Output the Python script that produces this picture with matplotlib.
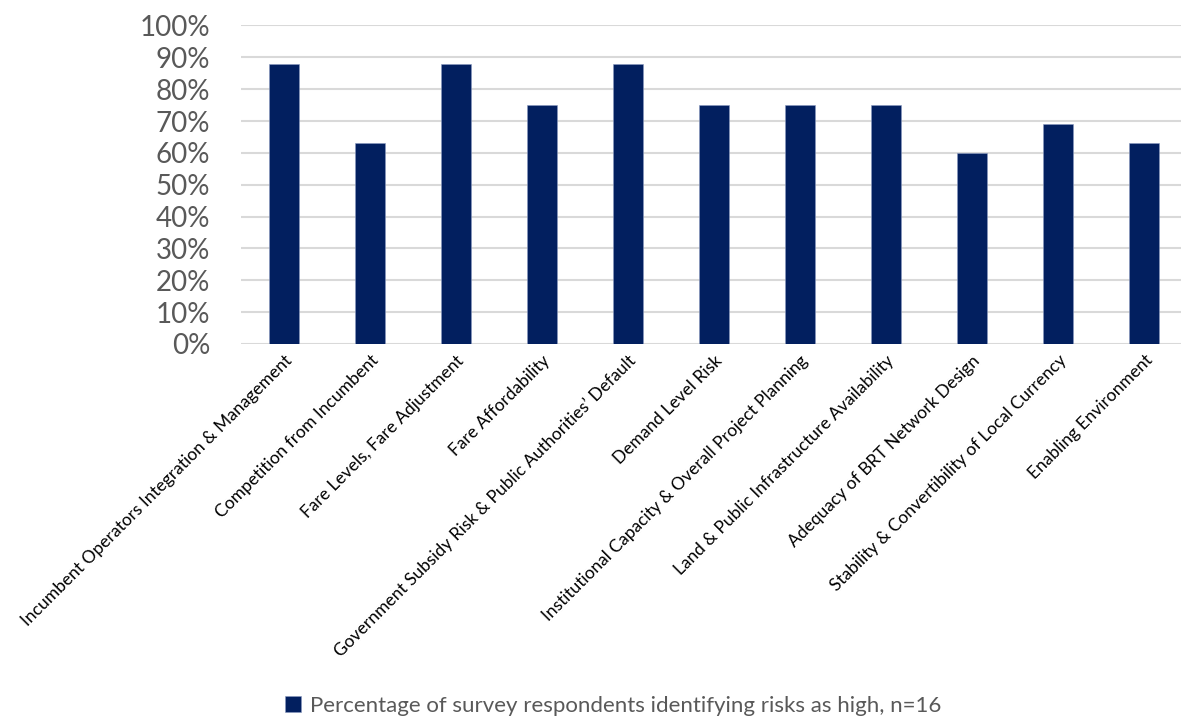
import numpy as np
import matplotlib.pyplot as plt

# risk categories and share of respondents rating them high
risks = [
    'Incumbent Operators Integration & Management',
    'Competition from Incumbent',
    'Fare Levels, Fare Adjustment',
    'Fare Affordability',
    'Government Subsidy Risk & Public Authorities\u2019 Default',
    'Demand Level Risk',
    'Institutional Capacity & Overall Project Planning',
    'Land & Public Infrastructure Availability',
    'Adequacy of BRT Network Design',
    'Stability & Convertibility of Local Currency',
    'Enabling Environment',
]
pct_high = [88, 63, 88, 75, 88, 75, 75, 75, 60, 69, 63]
yticks = list(range(0, 101, 10))
series_name = 'Percentage of survey respondents identifying risks as high, n=16'

navy = '#021F5F'
grey = '#595959'
plt.rcParams['font.family'] = ['Lato', 'DejaVu Sans']

fig = plt.figure(figsize=(11.81, 7.17), dpi=100)
ax = fig.add_axes([241 / 1181, 1 - 344 / 717, 940 / 1181, (344 - 25.5) / 717])

x = np.arange(len(risks))
bars = ax.bar(x, np.array(pct_high) / 100, width=0.36, color=navy,
              edgecolor='#8A9AC0', linewidth=0.4, zorder=3, label=series_name)

ax.set_ylim(0, 1)
ax.set_xlim(-0.5, -0.5 + 940 / 86)
ax.set_yticks(np.array(yticks) / 100)
ax.set_yticklabels([f'{t}%' for t in yticks], fontsize=20, color=grey)
ax.yaxis.grid(True, color='#D9D9D9', linewidth=1.5, zorder=0)
ax.tick_params(axis='y', length=0, pad=22)
ax.tick_params(axis='x', length=0, pad=6)
ax.set_xticks(x)
ax.set_xticklabels(risks, rotation=45, ha='right', va='top',
                   rotation_mode='anchor', fontsize=12.5, color='black')
for s in ax.spines.values():
    s.set_visible(False)

fig.legend(handles=[bars], labels=[series_name], loc='center',
           bbox_to_anchor=(613 / 1181, 1 - 706 / 717), frameon=False,
           fontsize=16, labelcolor=grey, handlelength=0.7, handleheight=0.7,
           handletextpad=0.4)

fig.savefig('out.png', dpi=100)
